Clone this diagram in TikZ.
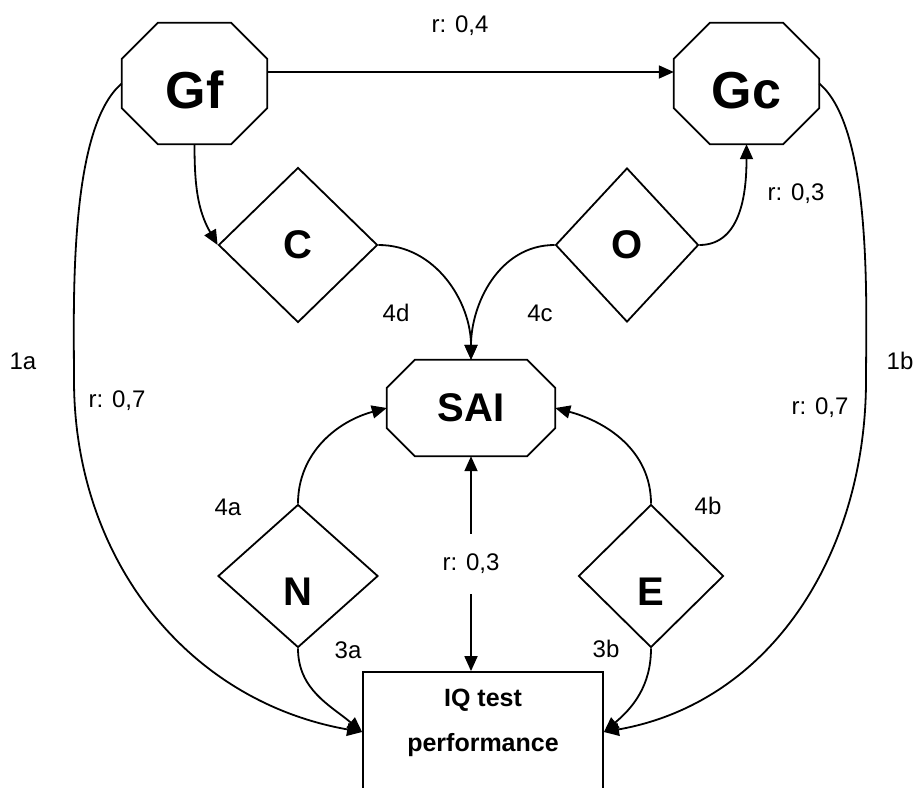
\documentclass[tikz,border=0pt]{standalone}
\usepackage{fontspec}
\setmainfont{Liberation Sans}
\usetikzlibrary{shapes.geometric,arrows.meta}
\newcommand{\octframe}[2]{\draw[line width=1.8pt] ([xshift=#2]#1.north west) -- ([xshift=-#2]#1.north east) -- ([yshift=-#2]#1.north east) -- ([yshift=#2]#1.south east) -- ([xshift=-#2]#1.south east) -- ([xshift=#2]#1.south west) -- ([yshift=#2]#1.south west) -- ([yshift=-#2]#1.north west) -- cycle;}
\begin{document}
\begin{tikzpicture}[x=1pt,y=1pt,
    octa/.style={rectangle, inner sep=0pt},
    facet/.style={diamond, draw, line width=1.8pt, inner sep=0pt, font=\fontsize{40}{48}\selectfont\bfseries},
    lbl/.style={font=\fontsize{24}{28}\selectfont},
    link/.style={line width=1.8pt, -{Triangle[length=15pt,width=13pt]}}]
    \useasboundingbox (0,0) rectangle (915,-787);
    \clip (0,0) rectangle (915,-787);
    \node[octa, minimum width=145pt, minimum height=121pt, font=\fontsize{52}{60}\selectfont\bfseries, text height=49pt, text depth=0pt] (Gf) at (194.5,-83.5) {Gf};
    \node[octa, minimum width=145pt, minimum height=121pt, font=\fontsize{52}{60}\selectfont\bfseries, text height=49pt, text depth=0pt] (Gc) at (746.5,-83.5) {Gc};
    \node[octa, minimum width=168pt, minimum height=96pt, font=\fontsize{40}{48}\selectfont\bfseries] (SAI) at (471,-408) {SAI};
    \octframe{Gf}{36pt}
    \octframe{Gc}{36pt}
    \octframe{SAI}{28pt}
    \node[facet, minimum width=159pt, minimum height=155pt] (C) at (298,-245) {C};
    \node[facet, minimum width=143pt, minimum height=154pt] (O) at (627,-245) {O};
    \node[facet, minimum width=160pt, minimum height=143pt, text height=58pt, text depth=0pt] (N) at (298,-576) {N};
    \node[facet, minimum width=145pt, minimum height=143pt, text height=58pt, text depth=0pt] (E) at (651,-576) {E};
    \node[draw, line width=1.8pt, minimum width=240pt, minimum height=120pt, inner sep=0pt] (iq) at (483,-732) {};
    \node[font=\fontsize{25}{45}\selectfont\bfseries, align=center, anchor=north, inner sep=0pt] (iqtext) at (483,-689) {IQ test\\performance};
    \coordinate (bendL) at (74,-380);
    \coordinate (bendR) at (866,-380);
    \draw[link] ([yshift=11.5pt]Gf.east) -- ([yshift=11.5pt]Gc.west);
    \draw[link] (Gf.south) to[out=-90,in=120] (C.west);
    \draw[link] (O.east) to[out=0,in=-90] (Gc.south);
    \draw[link] (C.east) to[out=0,in=90] (SAI.north);
    \draw[link] (O.west) to[out=180,in=90] (SAI.north);
    \draw[link] (N.north) to[out=90,in=195] (SAI.west);
    \draw[link] (E.north) to[out=90,in=-15] (SAI.east);
    \draw[link] (N.south) to[out=-90,in=140] (iq.west);
    \draw[link] (E.south) to[out=-90,in=40] (iq.east);
    \draw[link] (Gf.west) to[out=-140,in=90,looseness=0.6] (bendL) to[out=-90,in=170] (iq.west);
    \draw[link] (Gc.east) to[out=-40,in=90,looseness=0.6] (bendR) to[out=-90,in=10] (iq.east);
    \draw[line width=1.8pt, {Triangle[length=15pt,width=13pt]}-{Triangle[length=15pt,width=13pt]}] (SAI.south) -- node[lbl, fill=white, inner ysep=20pt] (r03) {r: 0,3} (SAI.south |- iq.north);
    \node[lbl] (r04) at (460,-26) {r: 0,4};
    \node[lbl] (rGc) at (796,-194) {r: 0,3};
    \node[lbl] (l4d) at (396,-313) {4d};
    \node[lbl] (l4c) at (540,-313) {4c};
    \node[lbl] (l1a) at (23,-361) {1a};
    \node[lbl] (rL) at (117,-401) {r: 0,7};
    \node[lbl] (l1b) at (900,-361) {1b};
    \node[lbl] (rR) at (820,-408) {r: 0,7};
    \node[lbl] (l4a) at (228,-507) {4a};
    \node[lbl] (l4b) at (708,-506) {4b};
    \node[lbl] (l3a) at (348,-650) {3a};
    \node[lbl] (l3b) at (606,-649) {3b};
\end{tikzpicture}
\end{document}
